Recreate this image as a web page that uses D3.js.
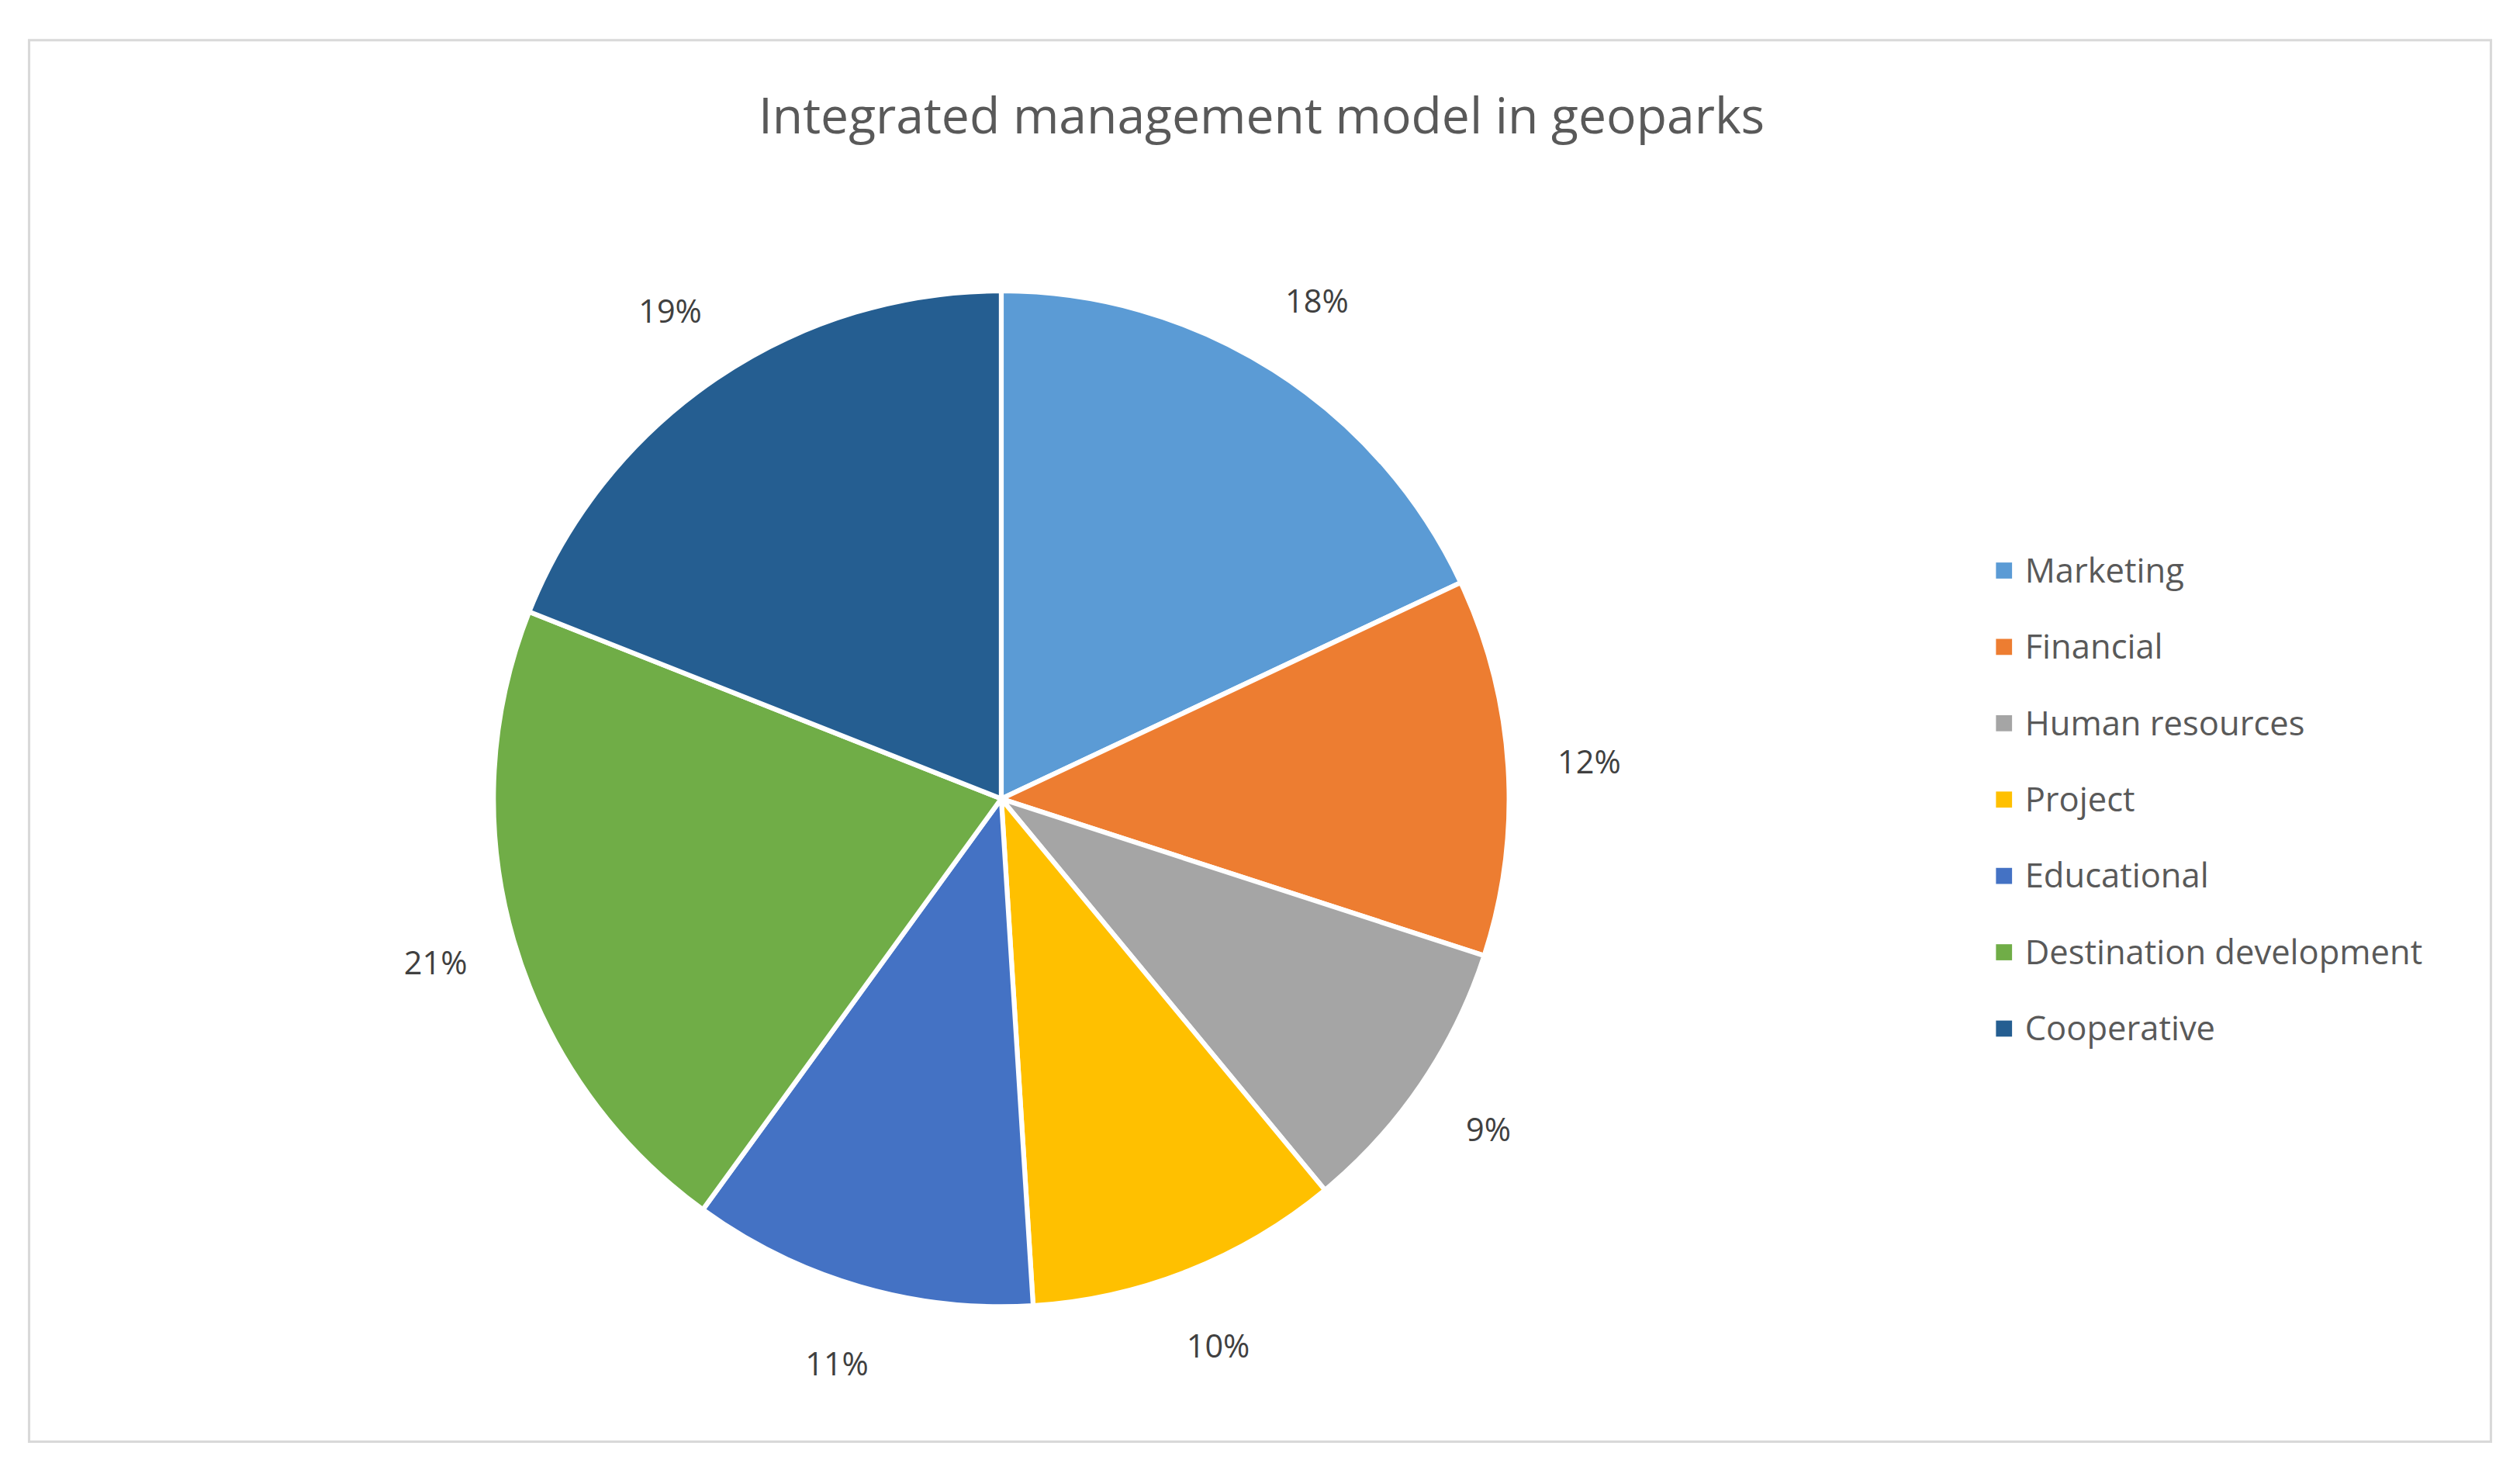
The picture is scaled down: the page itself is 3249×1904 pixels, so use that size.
<!DOCTYPE html>
<html><head><meta charset="utf-8">
<script src="https://cdn.jsdelivr.net/npm/d3@7"></script>
<style>body{margin:0;background:#fff;}svg{display:block;}</style>
</head><body><div id="chart"></div>
<script>
// Data
const categories = ["Marketing","Financial","Human resources","Project","Educational","Destination development","Cooperative"];
const values = [18,12,9,10,11,21,19];
const colors = ["#5b9bd5","#ed7d31","#a5a5a5","#ffc000","#4472c4","#70ad47","#255e91"];

const W = 1568, H = 919;
const svg = d3.select("#chart").append("svg")
    .attr("width", 3249).attr("height", 1904)
    .attr("viewBox", `0 0 ${W} ${H}`);

svg.append("rect").attr("x",18).attr("y",25).attr("width",1532).attr("height",872)
    .attr("fill","#fff").attr("stroke","#d9d9d9").attr("stroke-width",1.5);

svg.append("text").attr("x",785).attr("y",83).attr("text-anchor","middle")
    .attr("font-family","Open Sans, sans-serif").attr("font-size",31).attr("fill","#595959")
    .text("Integrated management model in geoparks");

const cx = 623, cy = 497, R = 316;
const pie = d3.pie().sort(null).value(d => d);
const arcs = pie(values);
const arc = d3.arc().innerRadius(0).outerRadius(R);
const labelArc = d3.arc().innerRadius(R*1.16).outerRadius(R*1.16);
const total = d3.sum(values);

const g = svg.append("g").attr("transform",`translate(${cx},${cy})`);
g.selectAll("path").data(arcs).join("path")
    .attr("d", arc).attr("fill",(d,i)=>colors[i])
    .attr("stroke","#fff").attr("stroke-width",3).attr("stroke-linejoin","round");

g.selectAll("text").data(arcs).join("text")
    .attr("transform", d => `translate(${labelArc.centroid(d)})`)
    .attr("text-anchor","middle").attr("dy","0.35em")
    .attr("font-family","Open Sans, sans-serif").attr("font-size",20).attr("fill","#404040")
    .text(d => Math.round(d.data/total*100) + "%");

const legend = svg.append("g").attr("transform","translate(1242,355)");
const item = legend.selectAll("g").data(categories).join("g")
    .attr("transform",(d,i)=>`translate(0,${i*47.5})`);
item.append("rect").attr("x",0).attr("y",-5).attr("width",10).attr("height",10)
    .attr("fill",(d,i)=>colors[i]);
item.append("text").attr("x",18).attr("dy","0.35em")
    .attr("font-family","Open Sans, sans-serif").attr("font-size",21).attr("fill","#595959")
    .text(d => d);
</script></body></html>
